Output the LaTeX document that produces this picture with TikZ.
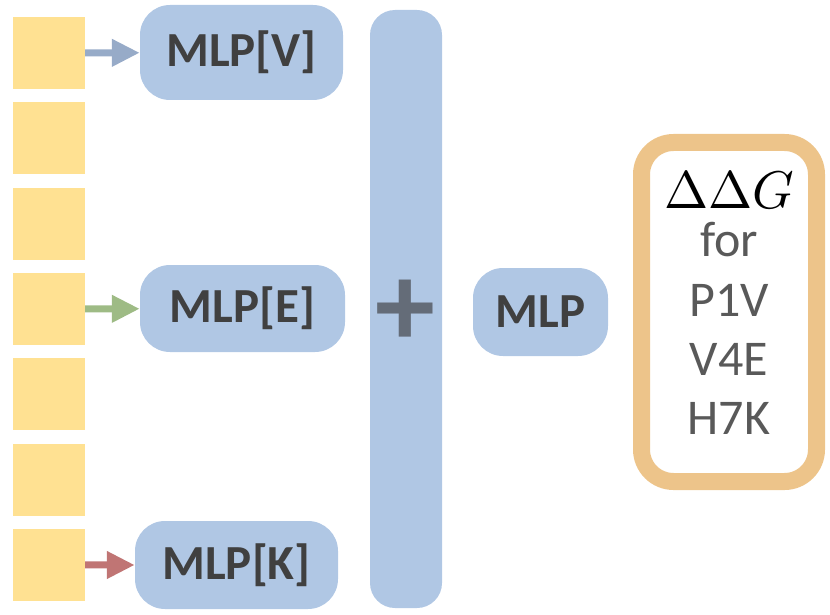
\documentclass[tikz,border=0pt]{standalone}
\usepackage{fontspec}
\setmainfont{Carlito}
\usepackage{tikz}
\usetikzlibrary{arrows.meta, positioning, calc}
\definecolor{cellyellow}{RGB}{255,225,146}
\definecolor{mlpblue}{RGB}{176,199,228}
\definecolor{arrowV}{RGB}{151,171,200}
\definecolor{arrowE}{RGB}{158,187,133}
\definecolor{arrowK}{RGB}{192,117,116}
\definecolor{plusgrey}{RGB}{100,108,120}
\definecolor{outorange}{RGB}{237,196,138}
\definecolor{textdark}{RGB}{64,64,64}
\definecolor{textgrey}{RGB}{89,89,89}

\begin{document}
\begin{tikzpicture}[
    x=1pt, y=-1pt,
    cell/.style={rectangle, fill=cellyellow, inner sep=0pt, minimum size=72pt},
    mlp/.style={rectangle, rounded corners=30pt, fill=mlpblue, inner sep=0pt,
                minimum width=203pt, minimum height=88pt, text=textdark,
                font=\fontsize{49}{49}\selectfont\bfseries},
    feed/.style={line width=7pt, -{Triangle[length=28pt, width=26pt]}}
]
\useasboundingbox (0,0) rectangle (830,615);
% colonna di celle
\foreach \i in {1,...,7}{
    \node[cell] (C\i) at (49, {53+85.33*(\i-1)}) {};
}
% MLP per mutazione
\node[mlp, minimum height=95pt] (MV) at (241.5,52.5) {MLP[V]};
\node[mlp, minimum width=205pt, minimum height=87pt] (ME) at (242.5,308.5) {MLP[E]};
\node[mlp] (MK) at (236.5,565) {MLP[K]};
\draw[feed, arrowV] (C1) -- (MV);
\draw[feed, arrowE] (C4) -- (ME);
\draw[feed, arrowK] (C7) -- (MK);
% somma
\node[rectangle, rounded corners=25pt, fill=mlpblue, inner sep=0pt,
      minimum width=72pt, minimum height=598pt] (sum) at (406,309) {};
\node[inner sep=0pt, text=plusgrey, font=\fontsize{120}{120}\selectfont\bfseries]
    (plus) at (405.5,313.5) {+};
\node[mlp, minimum width=135pt] (M) at (540.5,312) {MLP};
% uscita
\node[draw=outorange, line width=17pt, rounded corners=32pt, fill=white,
      minimum width=175pt, minimum height=339pt] (out) at (729,312) {};
\node[align=center, inner sep=0pt, text=textgrey,
      font=\fontsize{50}{59}\selectfont] (res) at ($(out.center)+(0,-9)$)
    {\textcolor{black}{\scalebox{5.3}{\fontsize{10}{12}\selectfont$\Delta\Delta G$}}\\[-11pt]
     for\\[1pt]P1V\\V4E\\H7K};
\end{tikzpicture}
\end{document}
